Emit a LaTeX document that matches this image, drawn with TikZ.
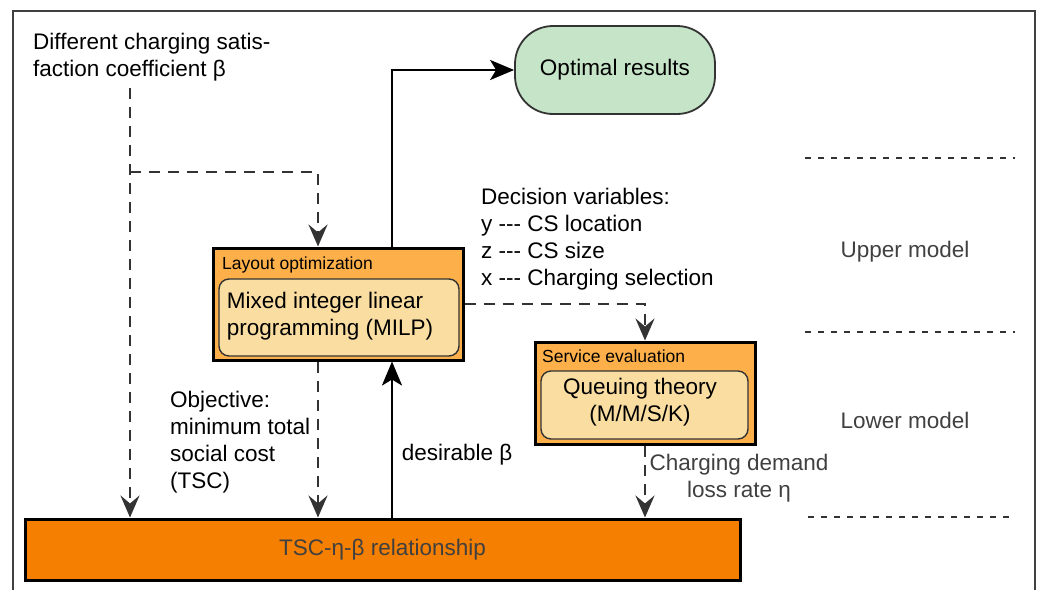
\documentclass[tikz,border=0pt]{standalone}
\usepackage{fontspec}
\setmainfont{Liberation Sans}
\usetikzlibrary{arrows.meta}
\definecolor{optgreen}{HTML}{C6E5C8}
\definecolor{boxorange}{HTML}{FDB04A}
\definecolor{innerorange}{HTML}{FADDA0}
\definecolor{tscorange}{HTML}{F57F00}
\definecolor{dgray}{HTML}{333333}
\definecolor{tgray}{HTML}{404040}
\tikzset{
  big/.style={font=\fontsize{22.5}{27}\selectfont},
  small/.style={font=\fontsize{17.5}{20}\selectfont},
  outerbox/.style={draw=black, line width=3pt, fill=boxorange},
  innerbox/.style={draw=dgray, line width=1.4pt, fill=innerorange, rounded corners=10pt},
  dashconn/.style={draw=dgray, line width=2.8pt, dash pattern=on 11pt off 8pt,
    -{Stealth[length=22pt,width=19pt,inset=8pt]}},
  solidconn/.style={draw=black, line width=2.8pt,
    -{Stealth[length=24pt,width=20pt,inset=6pt]}},
  sepline/.style={draw=dgray, line width=2pt, dash pattern=on 6pt off 7pt},
  lbl/.style={big, inner sep=0pt, align=left, anchor=north west},
}
\begin{document}
\begin{tikzpicture}[x=1pt,y=-1pt]
\useasboundingbox (0,0) rectangle (1043,589);
\draw[tgray, line width=2.5pt] (13,592) -- (13,11) -- (1035,11) -- (1035,592);

% nodes
\node[big, draw=dgray, line width=1.8pt, fill=optgreen, rounded corners=38pt,
  minimum width=200pt, minimum height=88pt] (opt) at (615,70) {Optimal results};

\node[outerbox, minimum width=250pt, minimum height=112pt] (lay) at (338,304) {};
\node[innerbox, minimum width=240pt, minimum height=77pt] (layin) at (339,317.5) {};
\node[big, align=left] (laytxt) at (330,316) {Mixed integer linear\\programming (MILP)};
\node[small, anchor=west, inner sep=0pt] (laytitle) at (222,265) {Layout optimization};

\node[outerbox, minimum width=220pt, minimum height=102pt] (svc) at (645,393) {};
\node[innerbox, minimum width=207pt, minimum height=68pt] (svcin) at (644.5,405) {};
\node[big, align=center] (svctxt) at (640,402) {Queuing theory\\(M/M/S/K)};
\node[small, anchor=west, inner sep=0pt] (svctitle) at (542,356) {Service evaluation};

\node[draw=black, line width=3pt, fill=tscorange, minimum width=715pt,
  minimum height=61pt, big, text=tgray] (tsc) at (382.5,549.5) {TSC-η-β relationship};

% labels
\node[lbl] (beta) at (33,33) {Different charging satis-\\faction coefficient β};
\node[lbl] (dec) at (481,188) {Decision variables:\\y -{}-{}- CS location\\z -{}-{}- CS size\\x -{}-{}- Charging selection};
\node[lbl] (obj) at (170,391) {Objective:\\minimum total\\social cost\\(TSC)};
\node[big] (des) at (457,455) {desirable β};
\node[big, align=center, text=tgray] (loss) at (739,478) {Charging demand\\loss rate η};
\node[big, text=tgray] (upper) at (905,252) {Upper model};
\node[big, text=tgray] (lower) at (905,420) {Lower model};

% connectors
\coordinate (b0) at (130,88);
\coordinate (bj) at (130,172);
\draw[dashconn] (b0) -- (b0 |- tsc.north);
\draw[dashconn] (bj) -| ([xshift=-20pt]lay.north);
\draw[dashconn] ([xshift=-20pt]lay.south) -- ([xshift=-20pt]lay.south |- tsc.north);
\draw[solidconn] ([xshift=54pt]lay.south |- tsc.north) -- ([xshift=54pt]lay.south);
\draw[solidconn] ([xshift=54pt]lay.north) |- (opt.west);
\draw[dashconn] (lay.east) -| (svc.north);
\draw[dashconn] (svc.south) -- (svc.south |- tsc.north);

% separators
\draw[sepline] (805,158) -- (1015,158);
\draw[sepline] (805,332) -- (1015,332);
\draw[sepline] (808,517) -- (1015,517);
\end{tikzpicture}
\end{document}
